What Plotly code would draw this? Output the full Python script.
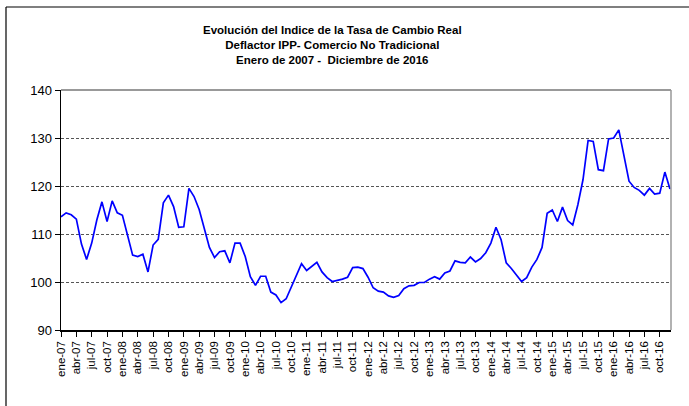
import plotly.graph_objects as go

months = ["ene", "feb", "mar", "abr", "may", "jun", "jul", "ago", "sep", "oct", "nov", "dic"]
years = ["07", "08", "09", "10", "11", "12", "13", "14", "15", "16"]
categories = [f"{m}-{y}" for y in years for m in months]

itcr = [
    113.6, 114.4, 114.0, 113.1, 107.9, 104.7, 108.1, 112.9, 116.7, 112.6, 116.9, 114.4,
    113.9, 109.6, 105.6, 105.3, 105.8, 102.1, 107.7, 108.9, 116.5, 118.1, 115.7, 111.4,
    111.5, 119.5, 117.8, 115.1, 111.0, 107.2, 105.1, 106.3, 106.5, 104.0, 108.1, 108.1,
    105.3, 101.1, 99.3, 101.2, 101.2, 97.9, 97.3, 95.7, 96.5, 99.0, 101.4, 103.8,
    102.4, 103.3, 104.1, 102.1, 100.9, 100.1, 100.3, 100.6, 101.0, 103.0, 103.1, 102.8,
    101.0, 98.8, 98.1, 97.9, 97.1, 96.8, 97.2, 98.6, 99.2, 99.3, 99.9, 99.9,
    100.6, 101.1, 100.6, 101.9, 102.3, 104.4, 104.1, 104.0, 105.2, 104.2, 104.9, 106.1,
    108.1, 111.4, 108.8, 104.0, 102.8, 101.4, 100.1, 100.9, 103.1, 104.7, 107.2, 114.3,
    115.0, 112.6, 115.6, 112.8, 111.9, 116.1, 121.3, 129.5, 129.3, 123.4, 123.2, 129.8,
    130.0, 131.7, 126.2, 121.0, 119.7, 119.1, 118.1, 119.5, 118.3, 118.5, 122.9, 119.4,
]

tick_step = 3
tick_idx = list(range(0, len(categories), tick_step))
tick_text = [categories[i] for i in tick_idx]

y_ticks = [90, 100, 110, 120, 130, 140]

title_lines = [
    "Evolución del Indice de la Tasa de Cambio Real",
    "Deflactor IPP- Comercio No Tradicional",
    "Enero de 2007 -  Diciembre de 2016",
]

W, H = 689, 406
L, R, T, B = 61, 18, 90, 76
pw, ph = W - L - R, H - T - B

def px_x(p):
    return (p - L) / pw

def px_y(p):
    return (H - B - p) / ph

fig = go.Figure()
fig.add_trace(go.Scatter(
    x=list(range(len(itcr))), y=itcr, mode="lines",
    line=dict(color="#0000ff", width=1.7),
    hoverinfo="skip", showlegend=False,
))

font = "Liberation Sans, Arial, sans-serif"

fig.update_layout(
    width=W, height=H,
    margin=dict(l=L, r=R, t=T, b=B, autoexpand=False),
    paper_bgcolor="white", plot_bgcolor="white",
    font=dict(family=font, color="black"),
    xaxis=dict(
        range=[0, len(itcr) - 0.8],
        tickmode="array", tickvals=tick_idx, ticktext=tick_text,
        tickangle=-90, tickfont=dict(size=11.5, family=font, color="black"),
        ticks="outside", ticklen=5, tickcolor="black", tickwidth=1,
        showline=True, linecolor="black", linewidth=1.5,
        showgrid=False, zeroline=False, automargin=False,
    ),
    yaxis=dict(
        range=[90, 140],
        tickvals=y_ticks,
        tickfont=dict(size=13, family=font, color="black"),
        ticks="outside", ticklen=5, tickcolor="black", tickwidth=1,
        showline=True, linecolor="black", linewidth=1.5,
        showgrid=True, gridcolor="#555555", gridwidth=1, griddash="3px,2px",
        zeroline=False, automargin=False,
    ),
    annotations=[dict(
        text="<b>" + "<br>".join(title_lines) + "</b>",
        xref="paper", yref="paper", x=px_x(332), y=px_y(45),
        xanchor="center", yanchor="middle", showarrow=False,
        font=dict(size=11.5, family=font, color="black"),
    )],
    shapes=[
        # top plot border (140 line) and right plot border
        dict(type="line", xref="paper", yref="paper", x0=0, x1=1, y0=1, y1=1,
             line=dict(color="#999999", width=2)),
        dict(type="line", xref="paper", yref="paper", x0=1, x1=1, y0=0, y1=1,
             line=dict(color="#999999", width=1.5)),
        # outer chart frame (top and left)
        dict(type="line", xref="paper", yref="paper", x0=px_x(6), x1=px_x(700),
             y0=px_y(7), y1=px_y(7), line=dict(color="black", width=1.2)),
        dict(type="line", xref="paper", yref="paper", x0=px_x(6), x1=px_x(6),
             y0=px_y(7), y1=px_y(420), line=dict(color="black", width=1.2)),
    ],
)

fig.write_html(
    "out.html",
    config={"displayModeBar": False, "staticPlot": True},
    post_script="document.body.style.margin='0';document.body.style.overflow='hidden';",
)
